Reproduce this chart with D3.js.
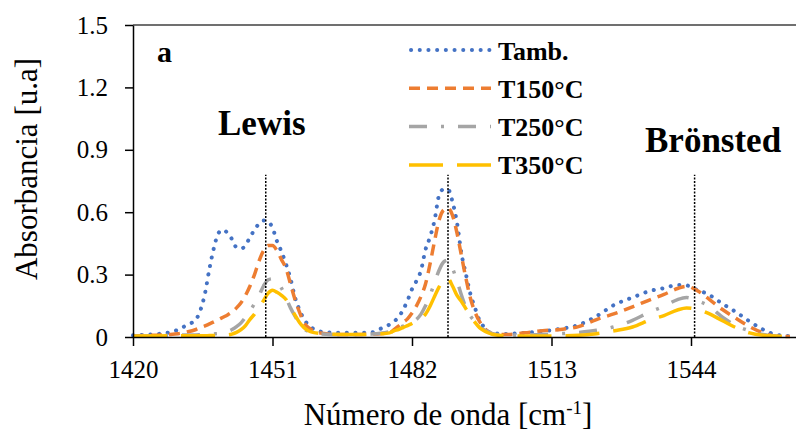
<!DOCTYPE html>
<html>
<head>
<meta charset="utf-8">
<script src="https://cdn.jsdelivr.net/npm/d3@7"></script>
<style>
  body { margin: 0; background: #fff; }
  text { font-family: "Liberation Serif", "Times New Roman", serif; fill: #000; }
</style>
</head>
<body>
<div id="chart"></div>
<script>
// wavenumbers (cm-1) where the spectra were read
var wavenumber = [1420, 1424, 1428, 1430, 1432, 1434, 1435, 1436, 1437, 1438, 1439, 1440, 1441, 1442, 1443, 1444, 1445, 1446, 1447, 1448, 1449, 1450,
  1451, 1452, 1453, 1454, 1455, 1456, 1457, 1458, 1459, 1460, 1462, 1466, 1470, 1473, 1475, 1477, 1478, 1479, 1480, 1481, 1482, 1483, 1484,
  1485, 1486, 1487, 1488, 1489, 1490, 1491, 1492, 1493, 1494, 1495, 1496, 1497, 1498, 1499, 1500, 1503, 1507, 1511, 1515, 1519, 1523, 1527,
  1531, 1535, 1538, 1541, 1543, 1545, 1548, 1551, 1554, 1557, 1560, 1563, 1566];

// absorbance per series
var tamb = [0.008, 0.012, 0.022, 0.035, 0.058, 0.085, 0.13, 0.21, 0.33, 0.43, 0.50, 0.515, 0.50, 0.47, 0.43, 0.425, 0.44, 0.48, 0.515, 0.545, 0.56, 0.555,
  0.525, 0.46, 0.41, 0.35, 0.28, 0.19, 0.13, 0.085, 0.058, 0.04, 0.025, 0.02, 0.02, 0.022, 0.04, 0.06, 0.075, 0.095, 0.13, 0.175, 0.23, 0.27, 0.32,
  0.42, 0.48, 0.56, 0.68, 0.71, 0.71, 0.65, 0.55, 0.40, 0.30, 0.205, 0.14, 0.08, 0.048, 0.025, 0.018, 0.015, 0.02, 0.028, 0.039, 0.058, 0.10, 0.155,
  0.19, 0.222, 0.235, 0.25, 0.248, 0.23, 0.203, 0.16, 0.12, 0.075, 0.036, 0.01, 0.004];
var t150 = [0.005, 0.008, 0.012, 0.016, 0.024, 0.036, 0.045, 0.053, 0.063, 0.073, 0.084, 0.095, 0.106, 0.12, 0.14, 0.165, 0.2, 0.245, 0.3, 0.365, 0.415, 0.44,
  0.44, 0.415, 0.372, 0.33, 0.255, 0.18, 0.12, 0.07, 0.045, 0.03, 0.018, 0.012, 0.012, 0.014, 0.016, 0.02, 0.035, 0.052, 0.07, 0.087, 0.115, 0.15, 0.195,
  0.255, 0.35, 0.46, 0.56, 0.61, 0.62, 0.585, 0.5, 0.39, 0.28, 0.185, 0.12, 0.075, 0.045, 0.025, 0.015, 0.012, 0.02, 0.03, 0.036, 0.05, 0.084, 0.112,
  0.145, 0.18, 0.205, 0.233, 0.244, 0.228, 0.182, 0.132, 0.09, 0.05, 0.02, 0.004, 0.002];
var t250 = [0.004, 0.006, 0.008, 0.009, 0.01, 0.01, 0.011, 0.012, 0.013, 0.015, 0.017, 0.02, 0.026, 0.036, 0.05, 0.068, 0.095, 0.125, 0.16, 0.2, 0.245, 0.275,
  0.28, 0.265, 0.235, 0.19, 0.14, 0.1, 0.065, 0.04, 0.027, 0.02, 0.015, 0.012, 0.012, 0.014, 0.018, 0.026, 0.033, 0.045, 0.052, 0.06, 0.072, 0.085, 0.11,
  0.15, 0.2, 0.26, 0.32, 0.36, 0.37, 0.33, 0.27, 0.2, 0.14, 0.1, 0.075, 0.05, 0.035, 0.025, 0.015, 0.01, 0.01, 0.012, 0.016, 0.022, 0.032, 0.05,
  0.08, 0.122, 0.148, 0.18, 0.19, 0.178, 0.148, 0.095, 0.055, 0.03, 0.012, 0.004, 0.002];
var t350 = [0.004, 0.005, 0.006, 0.006, 0.006, 0.006, 0.006, 0.006, 0.007, 0.007, 0.008, 0.009, 0.01, 0.014, 0.022, 0.035, 0.055, 0.085, 0.11, 0.14, 0.175, 0.21,
  0.225, 0.215, 0.2, 0.18, 0.14, 0.105, 0.07, 0.045, 0.03, 0.022, 0.016, 0.012, 0.012, 0.013, 0.015, 0.02, 0.03, 0.036, 0.045, 0.055, 0.065, 0.078, 0.09,
  0.11, 0.148, 0.195, 0.24, 0.275, 0.28, 0.245, 0.2, 0.17, 0.135, 0.1, 0.07, 0.045, 0.03, 0.02, 0.012, 0.006, 0.005, 0.005, 0.006, 0.008, 0.016, 0.03,
  0.048, 0.083, 0.103, 0.13, 0.14, 0.135, 0.112, 0.078, 0.045, 0.02, 0.008, 0.004, 0.002];

var seriesNames = ["Tamb.", "T150°C", "T250°C", "T350°C"];
var xTicks = [1420, 1451, 1482, 1513, 1544];
var yTicks = [0, 0.3, 0.6, 0.9, 1.2, 1.5];

// band positions (dotted markers)
var bandPos = [1449.5, 1490, 1544.8];
var bandTop = 0.78;

// look of each series (excel default palette)
var colors = ["#4472C4", "#ED7D31", "#A5A5A5", "#FFC000"];
var dashes = ["0.1,8.6", "11,7", "18,14,3,14", "34,14"];
var values = [tamb, t150, t250, t350];

// set the dimensions and margins of the graph
var margin = {top: 25, right: 0, bottom: 95, left: 133},
    width = 796 - margin.left - margin.right,
    height = 432 - margin.top - margin.bottom;

var svg = d3.select("#chart")
    .append("svg")
    .attr("width", 796)
    .attr("height", 432)
    .append("g")
    .attr("transform", "translate(" + margin.left + "," + margin.top + ")");

var x = d3.scaleLinear()
    .domain([1420, 1420 + width / 4.5])
    .range([0, width]);

var y = d3.scaleLinear()
    .domain([0, 1.5])
    .range([height, 0]);

// top border line
svg.append("line")
    .attr("x1", 0).attr("x2", width)
    .attr("y1", y(1.5)).attr("y2", y(1.5))
    .attr("stroke", "#404040")
    .attr("stroke-width", 1.5);

// the spectra
var line = d3.line()
    .curve(d3.curveMonotoneX)
    .x(function(d) { return x(d[0]); })
    .y(function(d) { return y(d[1]); });

values.forEach(function(vals, i) {
    var pts = wavenumber.map(function(w, j) { return [w, vals[j]]; });
    svg.append("path")
        .datum(pts)
        .attr("fill", "none")
        .attr("stroke", colors[i])
        .attr("stroke-width", i == 0 ? 4 : 3.5)
        .attr("stroke-dasharray", dashes[i])
        .attr("stroke-linecap", i == 0 ? "round" : "butt")
        .attr("d", line);
});

// dotted band markers
svg.selectAll(".band")
    .data(bandPos)
    .enter().append("line")
    .attr("x1", function(d) { return x(d); })
    .attr("x2", function(d) { return x(d); })
    .attr("y1", y(0))
    .attr("y2", y(bandTop))
    .attr("stroke", "#000")
    .attr("stroke-width", 1.5)
    .attr("stroke-dasharray", "2,1.5");

// X axis
var xAxis = svg.append("g")
    .attr("transform", "translate(0," + height + ")")
    .call(d3.axisBottom(x).tickValues(xTicks).tickFormat(d3.format("d")).tickSize(9).tickSizeOuter(0).tickPadding(14));
xAxis.selectAll("text").style("font-size", "25px");

// Y axis
var yAxis = svg.append("g")
    .call(d3.axisLeft(y).tickValues(yTicks).tickFormat(function(d) { return d == 0 ? "0" : d3.format(".1f")(d); })
        .tickSize(8).tickSizeOuter(0).tickPadding(17));
yAxis.selectAll("text").style("font-size", "25px");

svg.selectAll(".domain, .tick line").attr("stroke", "#000").attr("stroke-width", 1.5);

// axis titles
var xt = svg.append("text")
    .attr("x", 448 - margin.left)
    .attr("y", 425 - margin.top)
    .attr("text-anchor", "middle")
    .style("font-size", "31px")
    .text("Número de onda [cm");
xt.append("tspan").attr("dy", -11).style("font-size", "19px").text("-1");
xt.append("tspan").attr("dy", 11).text("]");

svg.append("text")
    .attr("transform", "translate(" + (37 - margin.left) + "," + (169 - margin.top) + ") rotate(-90)")
    .attr("text-anchor", "middle")
    .style("font-size", "31px")
    .text("Absorbancia [u.a]");

// panel letter and band labels
svg.append("text")
    .attr("x", 157 - margin.left).attr("y", 62 - margin.top)
    .style("font-size", "30px").style("font-weight", "bold")
    .text("a");

svg.append("text")
    .attr("x", 218 - margin.left).attr("y", 135 - margin.top)
    .style("font-size", "35px").style("font-weight", "bold")
    .text("Lewis");

svg.append("text")
    .attr("x", 645 - margin.left).attr("y", 152 - margin.top)
    .style("font-size", "35px").style("font-weight", "bold")
    .text("Brönsted");

// legend
var legend = svg.selectAll(".legend")
    .data(seriesNames)
    .enter().append("g")
    .attr("transform", function(d, i) { return "translate(" + (409 - margin.left) + "," + (50 + i * 38.3 - margin.top) + ")"; });

legend.append("line")
    .attr("x1", function(d, i) { return i == 0 ? 2 : 0; }).attr("x2", 82)
    .attr("stroke", function(d, i) { return colors[i]; })
    .attr("stroke-width", function(d, i) { return i == 0 ? 4 : 3.5; })
    .attr("stroke-dasharray", function(d, i) { return dashes[i]; })
    .attr("stroke-linecap", function(d, i) { return i == 0 ? "round" : "butt"; });

legend.append("text")
    .attr("x", 89)
    .attr("y", 9.5)
    .style("font-size", "26px").style("font-weight", "bold")
    .text(function(d) { return d; });
</script>
</body>
</html>
